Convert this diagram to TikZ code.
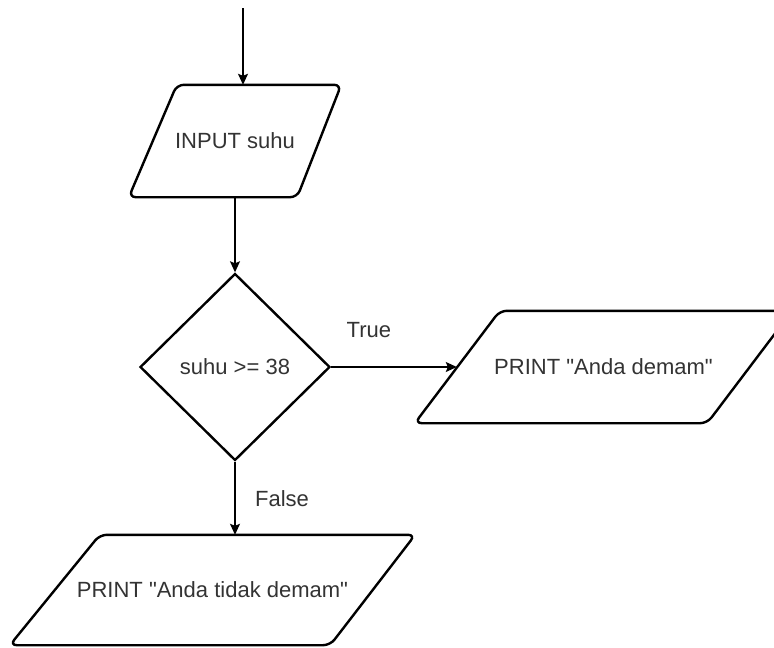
\documentclass[tikz,border=0pt]{standalone}
\usepackage{fontspec}
\setmainfont{Liberation Sans}
\usetikzlibrary{shapes.geometric, positioning, arrows.meta}

\begin{document}
\begin{tikzpicture}
	[x=1pt, y=-1pt, on grid,
	 io/.style={minimum height=112pt, inner sep=0pt, text=black!80,
	            font=\fontsize{22}{26}\selectfont},
	 boxline/.style={draw, line width=2.4pt, rounded corners=7pt},
	 cond/.style={diamond, draw, line width=2.4pt, minimum width=190pt,
	              minimum height=187pt, inner sep=0pt, text=black!80,
	              font=\fontsize{22}{26}\selectfont},
	 flow/.style={line width=1.2pt, -{Stealth[length=11pt, width=10pt, inset=2pt]}},
	 lbl/.style={text=black!80, font=\fontsize{22}{26}\selectfont}]
   \useasboundingbox (0,0) rectangle (774,648);
   \clip (0,0) rectangle (774,648);
   \coordinate (start) at (243,8);
   \node[io, minimum width=212pt] (inp) at (235,141) {INPUT suhu};
   \node[cond] (cek) [below=226pt of inp] {suhu >= 38};
   \node[io, minimum width=377pt] (out_t) [right=368.5pt of cek] {PRINT \textquotedbl Anda demam\textquotedbl\hspace{12pt}};
   \node[io, minimum width=405pt, minimum height=110pt] (out_f) [below left=223pt and 22.5pt of cek] {PRINT \textquotedbl Anda tidak demam\textquotedbl};
   % parallelogram outlines
   \draw[boxline] ([xshift=48pt]inp.north west) -- (inp.north east)
        -- ([xshift=-44pt]inp.south east) -- (inp.south west) -- cycle;
   \draw[boxline] ([xshift=85pt]out_t.north west) -- (out_t.north east)
        -- ([xshift=-85pt]out_t.south east) -- (out_t.south west) -- cycle;
   \draw[boxline] ([xshift=90pt]out_f.north west) -- (out_f.north east)
        -- ([xshift=-85pt]out_f.south east) -- (out_f.south west) -- cycle;
   % connectors
   \draw[flow] (start) -- (start |- inp.north);
   \draw[flow] (inp.south) -- (cek.north);
   \draw[flow] (cek.east) -- node[lbl, pos=0.3, yshift=37pt] {True} ([xshift=42pt]out_t.west);
   \draw[flow] (cek.south) -- node[lbl, pos=0.5, xshift=47pt] {False} (cek.south |- out_f.north);
\end{tikzpicture}
\end{document}
